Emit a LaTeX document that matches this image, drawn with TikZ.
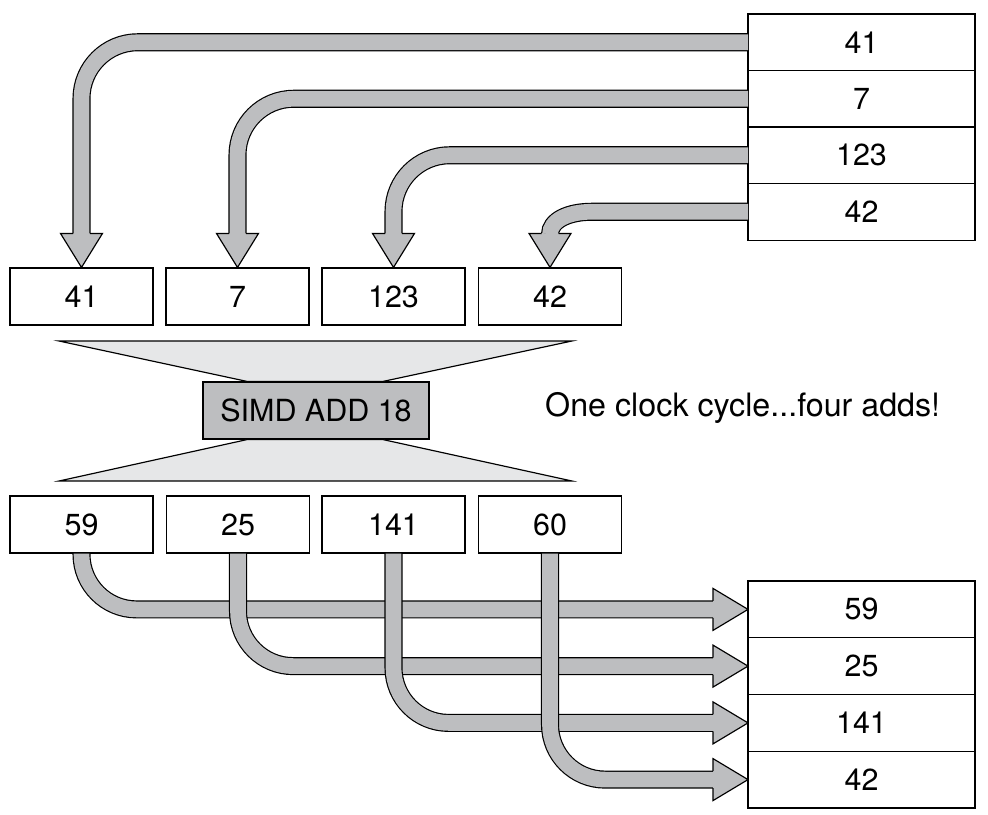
\documentclass[tikz,border=0pt]{standalone}
\usepackage{fontspec}
\setmainfont{TeX Gyre Heros}
\usetikzlibrary{calc}
\definecolor{BandGray}{RGB}{189,190,192}
\definecolor{FunnelGray}{RGB}{230,231,232}

\begin{document}
\begin{tikzpicture}[x=0.03cm,y=-0.03cm,
  cell/.style={draw,line width=1pt,minimum width=4.29cm,minimum height=1.71cm,inner sep=0pt,font=\fontsize{26}{30}\selectfont},
  stackcell/.style={cell,outer sep=0pt,minimum width=6.81cm,minimum height=1.7cm},
  band/.style={draw=black,line width=1pt,double=BandGray,double distance=13.4pt},
  head/.style={fill=BandGray,draw=black,line width=1pt,line join=miter},
  funnel/.style={fill=FunnelGray,draw=black,line width=1pt}]
  \useasboundingbox (0,0) rectangle (988,814);
  % memory, top
  \node[stackcell] (s1) at (861.5,42.25) {41};
  \node[stackcell] (s2) at (861.5,98.75) {7};
  \node[stackcell] (s3) at (861.5,155.25) {123};
  \node[stackcell] (s4) at (861.5,211.75) {42};
  % register in
  \node[cell] (a1) at (81.5,296.5) {41};
  \node[cell] (a2) at (237.5,296.5) {7};
  \node[cell] (a3) at (393.5,296.5) {123};
  \node[cell] (a4) at (550,296.5) {42};
  % the add
  \node[cell,fill=BandGray,minimum width=6.78cm] (simd) at (316,410.5) {SIMD ADD 18};
  \filldraw[funnel] (59,341) -- (572,341) -- ($(simd.north)+(67,0)$) -- ($(simd.north)+(-69,0)$) -- cycle;
  \filldraw[funnel] (59,481) -- (572,481) -- ($(simd.south)+(67,0)$) -- ($(simd.south)+(-69,0)$) -- cycle;
  \node[anchor=west,inner sep=0pt,font=\fontsize{27.5}{30}\selectfont] (note) at (545,408) {One clock cycle...four adds!};
  % register out
  \node[cell] (r1) at (81.5,524.5) {59};
  \node[cell] (r2) at (238,524.5) {25};
  \node[cell] (r3) at (393.5,524.5) {141};
  \node[cell] (r4) at (550,524.5) {60};
  % memory, bottom
  \node[stackcell,minimum height=1.7025cm] (d1) at (861.5,609.4) {59};
  \node[stackcell,minimum height=1.7025cm] (d2) at (861.5,666.1) {25};
  \node[stackcell,minimum height=1.7025cm] (d3) at (861.5,722.9) {141};
  \node[stackcell,minimum height=1.7025cm] (d4) at (861.5,779.6) {42};

  % loads
  \draw[band,rounded corners=48pt] (s1.west) -| ($(a1.north)+(0,-33)$);
  \filldraw[head] ($(a1.north)+(-8.5,-34)$) -- ++(-12.5,0) -- (a1.north) -- ++(21,-34) -- ++(-12.5,0);
  \draw[band,rounded corners=48pt] (s2.west) -| ($(a2.north)+(0,-33)$);
  \filldraw[head] ($(a2.north)+(-8.5,-34)$) -- ++(-12.5,0) -- (a2.north) -- ++(21,-34) -- ++(-12.5,0);
  \draw[band,rounded corners=48pt] (s3.west) -| ($(a3.north)+(0,-33)$);
  \filldraw[head] ($(a3.north)+(-8.5,-34)$) -- ++(-12.5,0) -- (a3.north) -- ++(21,-34) -- ++(-12.5,0);
  \draw[band] (s4.west) -- ++(-156,0) .. controls +(-24,0) and +(0,-14) .. ($(a4.north)+(0,-33)$);
  \filldraw[head] ($(a4.north)+(-8.5,-34)$) -- ++(-12.5,0) -- (a4.north) -- ++(21,-34) -- ++(-12.5,0);

  % stores
  \draw[band,rounded corners=47pt] (r1.south) |- ($(d1.west)+(-34,0)$);
  \filldraw[head] ($(d1.west)+(-35,-8.5)$) -- ++(0,-12.5) -- (d1.west) -- ++(-35,21) -- ++(0,-12.5);
  \draw[band,rounded corners=47pt] (r2.south) |- ($(d2.west)+(-34,0)$);
  \filldraw[head] ($(d2.west)+(-35,-8.5)$) -- ++(0,-12.5) -- (d2.west) -- ++(-35,21) -- ++(0,-12.5);
  \draw[band,rounded corners=47pt] (r3.south) |- ($(d3.west)+(-34,0)$);
  \filldraw[head] ($(d3.west)+(-35,-8.5)$) -- ++(0,-12.5) -- (d3.west) -- ++(-35,21) -- ++(0,-12.5);
  \draw[band,rounded corners=47pt] (r4.south) |- ($(d4.west)+(-34,0)$);
  \filldraw[head] ($(d4.west)+(-35,-8.5)$) -- ++(0,-12.5) -- (d4.west) -- ++(-35,21) -- ++(0,-12.5);
\end{tikzpicture}
\end{document}
